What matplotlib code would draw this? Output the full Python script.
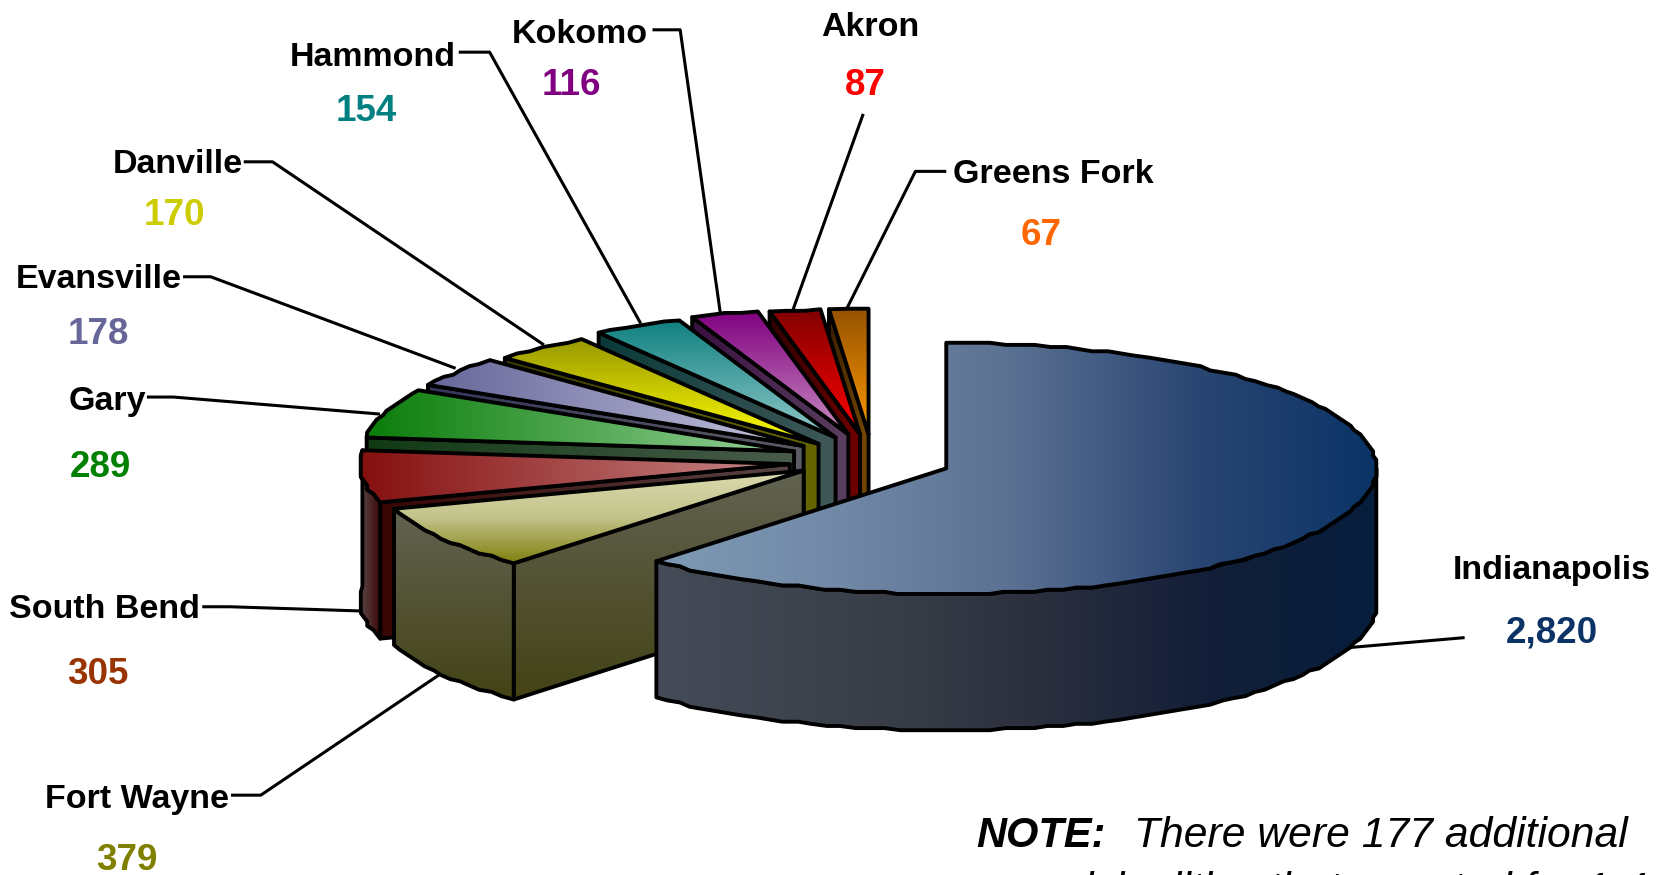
import matplotlib
matplotlib.use('Agg')
import matplotlib.pyplot as plt
import numpy as np
from matplotlib.colors import LinearSegmentedColormap
from matplotlib.patches import Polygon

plt.rcParams['font.family'] = ['Liberation Sans', 'DejaVu Sans']

cities = ['Indianapolis', 'Fort Wayne', 'South Bend', 'Gary', 'Evansville',
          'Danville', 'Hammond', 'Kokomo', 'Akron', 'Greens Fork']
counts = [2820, 379, 305, 289, 178, 170, 154, 116, 87, 67]
count_labels = ['2,820', '379', '305', '289', '178', '170', '154', '116', '87', '67']

# стиль: вершина каждого сектора (он выдвинут), цвета верха и стенок
apex_x = [889, 755, 742, 746, 755, 769, 785, 797, 808, 816]
apex_y = [440, 442, 436, 424, 419, 417, 411, 408, 408, 408]
top_colors = [['#7f9ab5', '#7189a7', '#5a7092', '#2a4672', '#0b3366'],
              ['#dadab0', '#c4c48c', '#808010'],
              ['#861010', '#c98a8a'],
              ['#0a7d0a', '#9ad29c'],
              ['#66669a', '#c4c4de'],
              ['#989800', '#ffff00'],
              ['#0f8080', '#90c8c8'],
              ['#800080', '#c88cc0'],
              ['#800000', '#ff0000'],
              ['#945200', '#ff9900']]
top_dir = ['h', 'v', 'h', 'h', 'h', 'v', 'v', 'v', 'v', 'v']
indy_wall = ['#454b57', '#3c424c', '#2e323f', '#141f38', '#061d3c']
wall_c1 = ['#474c58', '#626252', '#3a0505', '#103a14', '#35355a',
           '#3a3a00', '#0a3a3a', '#3a1040', '#300000', '#3a2000']
wall_c2 = ['#0a1c38', '#434315', '#5a4545', '#4a5c4c', '#5c5c66',
           '#666600', '#405858', '#5a4060', '#700000', '#7a4a00']
label_colors = ['#0b3366', '#808000', '#993300', '#008000', '#666699',
                '#cccc00', '#008080', '#800080', '#ff0000', '#ff6600']

rx, ry, depth = 404, 118, 128

# подписи: центр названия, центр числа
name_pos = [(1458, 536), (129, 751), (98, 573), (101, 377), (93, 263),
            (167, 155), (350, 54), (545, 32), (818, 26), (990, 164)]
value_pos = [(1458, 595), (119, 808), (92, 634), (94, 439), (92, 314),
             (164, 202), (344, 105), (537, 80), (813, 80), (978, 221)]
# линии-выноски
leaders = [[(1376, 599), (1260, 609)],
           [(217, 747), (245, 747), (414, 633)],
           [(190, 570), (216, 570), (340, 574)],
           [(138, 373), (163, 373), (357, 389)],
           [(172, 260), (198, 260), (428, 346)],
           [(229, 152), (256, 152), (511, 324)],
           [(431, 49), (460, 49), (602, 304)],
           [(613, 28), (639, 28), (677, 296)],
           [(811, 107), (745, 291)],
           [(889, 161), (860, 161), (795, 291)]]

fig = plt.figure(figsize=(16.69, 8.75), dpi=100)
ax = fig.add_axes([0, 0, 1, 1])
ax.set_xlim(0, 1568)
ax.set_ylim(822, 0)
ax.axis('off')


def gradient_poly(pts, colors, direction, z):
    pts = np.array(pts)
    cmap = LinearSegmentedColormap.from_list('g', colors)
    x0, x1 = pts[:, 0].min(), pts[:, 0].max()
    y0, y1 = pts[:, 1].min(), pts[:, 1].max()
    if direction == 'h':
        grad = np.linspace(0, 1, 256).reshape(1, -1)
    else:
        grad = np.linspace(0, 1, 256).reshape(-1, 1)
    im = ax.imshow(grad, extent=(x0, x1, y1, y0), cmap=cmap, aspect='auto', zorder=z,
                   interpolation='bilinear')
    patch = Polygon(pts, closed=True, fc='none', ec='black', lw=2.8, joinstyle='round', zorder=z + 0.5)
    ax.add_patch(patch)
    im.set_clip_path(patch)


def rim(cx, cy, a0, a1):
    # край сектора с мелкими ступеньками, как в оригинале
    n = max(3, int(abs(a1 - a0) / 2.0) + 1)
    t = np.radians(np.linspace(a0, a1, n))
    x = cx + rx * np.sin(t)
    y = cy - ry * np.cos(t)
    pts = np.column_stack([np.round(x / 3) * 3, np.round(y / 2) * 2])
    pts[0] = [x[0], y[0]]
    pts[-1] = [x[-1], y[-1]]
    return pts


# углы считаются от значений, по часовой стрелке от 12 часов
edges = np.concatenate([[0], np.cumsum(counts)]) / sum(counts) * 360

# рисуем от дальних секторов к ближним
for i in list(range(len(counts) - 1, 0, -1)) + [0]:
    a0, a1 = edges[i], edges[i + 1]
    cx, cy = apex_x[i], apex_y[i]
    z = 10 + (len(counts) - i) * 2 if i > 0 else 40
    rim_pts = rim(cx, cy, a0, a1)

    if i > 0:
        # срез со стороны зрителя
        p = rim_pts[0]
        wall = [(cx, cy), tuple(p), (p[0], p[1] + depth), (cx, cy + depth)]
        d = 'v' if i == 1 else 'h'
        gradient_poly(wall, [wall_c1[i], wall_c2[i]], d, z)

    # внешняя стенка видна только в нижней половине эллипса
    lo, hi = max(a0, 90), min(a1, 270)
    if i == 2:
        hi = a1
    if hi > lo:
        r = rim(cx, cy, lo, hi)
        wall = np.vstack([r, (r + [0, depth])[::-1]])
        if i == 0:
            gradient_poly(wall, indy_wall, 'h', z + 0.6)
        elif i == 1:
            gradient_poly(wall, [wall_c1[i], wall_c2[i]], 'v', z + 0.6)
        else:
            gradient_poly(wall, [wall_c2[i], wall_c1[i]], 'h', z + 0.6)

    top = np.vstack([[(cx, cy)], rim_pts])
    gradient_poly(top, top_colors[i], top_dir[i], z + 1.2)

for line in leaders:
    xs, ys = zip(*line)
    ax.plot(xs, ys, color='black', lw=2.2, zorder=5, solid_capstyle='butt')

for i, city in enumerate(cities):
    ax.text(name_pos[i][0], name_pos[i][1], city, ha='center', va='center',
            fontsize=24.5, fontweight='bold', color='black', zorder=60)
    ax.text(value_pos[i][0], value_pos[i][1], count_labels[i], ha='center', va='center',
            fontsize=26.5, fontweight='bold', color=label_colors[i], zorder=60)

ax.text(917, 785, 'NOTE:', fontsize=30, fontweight='bold', style='italic', va='center', zorder=60)
ax.text(1065, 785, 'There were 177 additional', fontsize=30.7, style='italic', va='center', zorder=60)
ax.text(940, 837, 'municipalities that reported for 1-4', fontsize=30.7, style='italic', va='center', zorder=60)

fig.savefig('out.png', dpi=100)
